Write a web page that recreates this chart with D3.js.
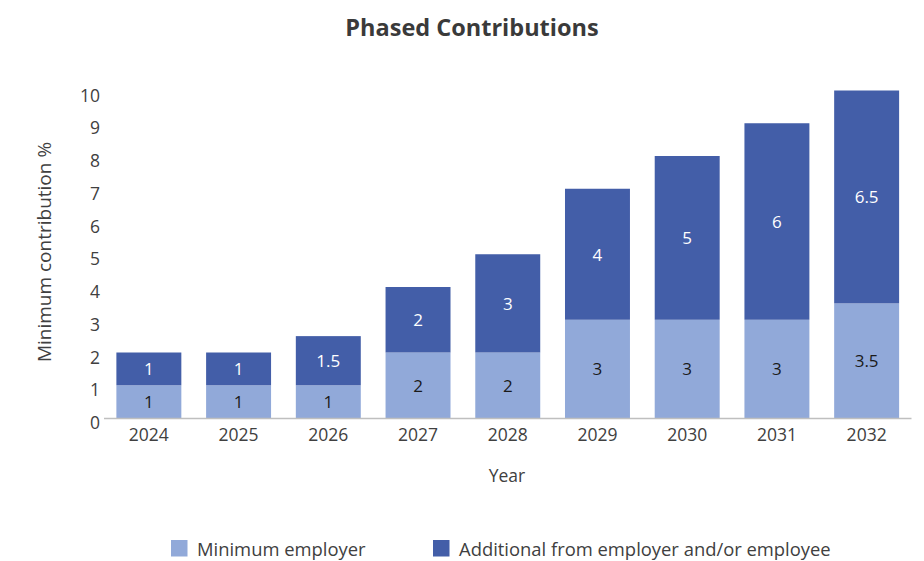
<!DOCTYPE html>
<html>
<head>
<meta charset="utf-8">
<script src="https://cdn.jsdelivr.net/npm/d3@7"></script>
<style>
  html, body { margin: 0; padding: 0; background: #fff; }
  svg { display: block; font-family: "Open Sans", "Noto Sans", sans-serif; }
</style>
</head>
<body>
<svg id="chart" width="924" height="561"></svg>
<script>
const years = ["2024", "2025", "2026", "2027", "2028", "2029", "2030", "2031", "2032"];
const minimumEmployer = [1, 1, 1, 2, 2, 3, 3, 3, 3.5];
const additional = [1, 1, 1.5, 2, 3, 4, 5, 6, 6.5];
const yTicks = [0, 1, 2, 3, 4, 5, 6, 7, 8, 9, 10];
const seriesNames = ["Minimum employer", "Additional from employer and/or employee"];
const colors = ["#91a9d9", "#435ea8"];
const labelColors = ["#1a1a1a", "#ffffff"];

const svg = d3.select("#chart");
const plotLeft = 104, plotRight = 911.5, plotTop = 90.5, plotBottom = 418;

const x = d3.scaleBand().domain(years).range([plotLeft, plotRight])
  .paddingInner(0.276).paddingOuter(0.138);
const y = d3.scaleLinear().domain([0, 10]).range([plotBottom, plotTop]);

const rows = years.map((yr, i) => ({ year: yr, min: minimumEmployer[i], add: additional[i] }));
const stacked = d3.stack().keys(["min", "add"])(rows);

// Title
svg.append("text")
  .attr("x", 472).attr("y", 27)
  .attr("text-anchor", "middle").attr("dominant-baseline", "central")
  .attr("font-size", 23.5).attr("font-weight", 700).attr("fill", "#3a3a3a")
  .text("Phased Contributions");

// Bars
const layers = svg.append("g").selectAll("g").data(stacked).join("g")
  .attr("fill", (d, i) => colors[i]);
layers.selectAll("rect").data(d => d).join("rect")
  .attr("x", d => x(d.data.year))
  .attr("width", x.bandwidth())
  .attr("y", d => y(d[1]))
  .attr("height", d => y(d[0]) - y(d[1]));

// Bar labels
stacked.forEach((layer, li) => {
  svg.append("g").selectAll("text").data(layer).join("text")
    .attr("x", d => x(d.data.year) + x.bandwidth() / 2)
    .attr("y", d => (y(d[0]) + y(d[1])) / 2)
    .attr("text-anchor", "middle").attr("dominant-baseline", "central")
    .attr("font-size", 17).attr("fill", labelColors[li])
    .text(d => d[1] - d[0]);
});

// Baseline
svg.append("line")
  .attr("x1", plotLeft).attr("x2", plotRight)
  .attr("y1", y(0) + 0.5).attr("y2", y(0) + 0.5)
  .attr("stroke", "#bfbfbf").attr("stroke-width", 1.5);

// Y axis
const yAxis = svg.append("g").attr("transform", `translate(${plotLeft},0)`)
  .call(d3.axisLeft(y).tickValues(yTicks).tickSize(0).tickPadding(4));
yAxis.select(".domain").remove();
yAxis.selectAll("text")
  .attr("font-size", 17.5).attr("fill", "#404040")
  .attr("font-family", "Open Sans, sans-serif")
  .attr("dy", "0.6em");

// X axis
const xAxis = svg.append("g").attr("transform", `translate(0,${plotBottom})`)
  .call(d3.axisBottom(x).tickSize(0).tickPadding(11));
xAxis.select(".domain").remove();
xAxis.selectAll("text")
  .attr("font-size", 17.5).attr("fill", "#404040")
  .attr("font-family", "Open Sans, sans-serif");

// Axis titles
svg.append("text")
  .attr("x", 507).attr("y", 475)
  .attr("text-anchor", "middle").attr("dominant-baseline", "central")
  .attr("font-size", 17.5).attr("fill", "#404040")
  .text("Year");
svg.append("text")
  .attr("transform", "translate(44,252) rotate(-90)")
  .attr("text-anchor", "middle").attr("dominant-baseline", "central")
  .attr("font-size", 19).attr("fill", "#404040")
  .text("Minimum contribution %");

// Legend
const legendX = [171, 433];
const legend = svg.append("g").selectAll("g").data(seriesNames).join("g")
  .attr("transform", (d, i) => `translate(${legendX[i]},540)`);
legend.append("rect").attr("width", 16.5).attr("height", 16.5)
  .attr("fill", (d, i) => colors[i]);
legend.append("text")
  .attr("x", 26).attr("y", 8.5)
  .attr("dominant-baseline", "central")
  .attr("font-size", 18.4).attr("fill", "#404040")
  .text(d => d);
</script>
</body>
</html>
